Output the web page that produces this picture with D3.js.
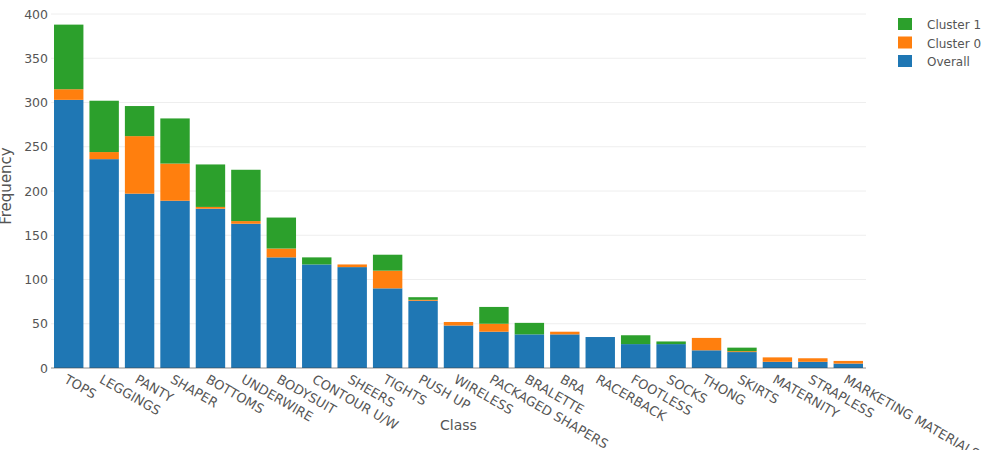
<!DOCTYPE html>
<html>
<head>
<meta charset="utf-8">
<script src="https://cdn.jsdelivr.net/npm/d3@7"></script>
<style>
  body { margin: 0; background: #fff; }
  svg text { font-family: "DejaVu Sans", sans-serif; fill: #555; }
</style>
</head>
<body>
<div id="chart-area"></div>
<script>
// data
var classes = ['TOPS', 'LEGGINGS', 'PANTY', 'SHAPER', 'BOTTOMS', 'UNDERWIRE', 'BODYSUIT',
  'CONTOUR U/W', 'SHEERS', 'TIGHTS', 'PUSH UP', 'WIRELESS', 'PACKAGED SHAPERS', 'BRALETTE',
  'BRA', 'RACERBACK', 'FOOTLESS', 'SOCKS', 'THONG', 'SKIRTS', 'MATERNITY', 'STRAPLESS',
  'MARKETING MATERIALS'];
var overall  = [303, 236, 197, 189, 180, 163, 125, 117, 114, 90, 76, 48, 41, 38, 38, 35, 27, 27, 20, 18, 7, 7, 5];
var cluster0 = [12, 8, 65, 42, 2, 3, 10, 0, 3, 20, 1, 4, 9, 0, 3, 0, 0, 0, 14, 1, 5, 4, 3];
var cluster1 = [73, 58, 34, 51, 48, 58, 35, 8, 0, 18, 3, 0, 19, 13, 0, 0, 10, 3, 0, 4, 0, 0, 0];
var seriesNames = ['Overall', 'Cluster 0', 'Cluster 1'];
var colors = ['#1f77b4', '#ff7f0e', '#2ca02c'];
var yTicks = [0, 50, 100, 150, 200, 250, 300, 350, 400];

var margin = {top: 14, left: 51, right: 133, bottom: 82};
var width = 999 - margin.left - margin.right;
var height = 450 - margin.top - margin.bottom;

var svg = d3.select('#chart-area')
  .append('svg')
    .attr('width', 999)
    .attr('height', 450)
  .append('g')
    .attr('transform', 'translate(' + margin.left + ',' + margin.top + ')');

var x = d3.scaleBand()
  .domain(classes)
  .range([0, width])
  .paddingInner(0.17)
  .paddingOuter(0.085);
var y = d3.scaleLinear()
  .domain([0, 400])
  .range([height, 0]);

// grid
svg.append('g')
  .selectAll('line')
  .data(yTicks.slice(1))
  .enter().append('line')
    .attr('x1', 0)
    .attr('x2', width)
    .attr('y1', d => y(d))
    .attr('y2', d => y(d))
    .attr('stroke', '#eee')
    .attr('stroke-width', 1);

// stacked bars
var rows = classes.map((c, i) => ({cls: c, 'Overall': overall[i], 'Cluster 0': cluster0[i], 'Cluster 1': cluster1[i]}));
var stack = d3.stack().keys(seriesNames)(rows);

svg.append('g')
  .selectAll('g')
  .data(stack)
  .enter().append('g')
    .attr('fill', (d, i) => colors[i])
  .selectAll('rect')
  .data(d => d)
  .enter().append('rect')
    .attr('x', d => x(d.data.cls))
    .attr('width', x.bandwidth())
    .attr('y', d => y(d[1]))
    .attr('height', d => y(d[0]) - y(d[1]));

// zero line
svg.append('line')
  .attr('x1', 0)
  .attr('x2', width)
  .attr('y1', y(0))
  .attr('y2', y(0))
  .attr('stroke', '#444')
  .attr('stroke-width', 1)
  .attr('stroke-opacity', 0.6);

// Y axis
var yAxisCall = d3.axisLeft(y).tickValues(yTicks).tickSize(0).tickPadding(3);
var yAxis = svg.append('g').call(yAxisCall);
yAxis.select('.domain').remove();
yAxis.selectAll('text').attr('font-size', '12.5px').attr('font-family', '"DejaVu Sans", sans-serif').attr('fill', '#555');

// X axis, labels rotated 30 deg
var xAxis = svg.append('g')
  .attr('transform', 'translate(0,' + height + ')');
xAxis.selectAll('text')
  .data(classes)
  .enter().append('text')
    .attr('transform', d => 'translate(' + (x(d) + x.bandwidth() / 2 - 1) + ',6) rotate(30)')
    .attr('text-anchor', 'start')
    .attr('dy', '0.7em')
    .attr('font-size', '13px')
    .text(d => d);

// axis titles
svg.append('text')
  .attr('x', width / 2)
  .attr('y', height + 62)
  .attr('text-anchor', 'middle')
  .attr('font-size', '14px')
  .text('Class');
svg.append('text')
  .attr('transform', 'rotate(-90)')
  .attr('x', -172)
  .attr('y', -40)
  .attr('text-anchor', 'middle')
  .attr('font-size', '15px')
  .text('Frequency');

// Legend (reversed, like a stacked legend)
var legend = d3.select('svg').append('g')
  .attr('transform', 'translate(898,18)');
seriesNames.slice().reverse().forEach(function(name, i){
  var row = legend.append('g').attr('transform', 'translate(0,' + (i * 18.5) + ')');
  row.append('rect')
    .attr('width', 14)
    .attr('height', 12)
    .attr('fill', colors[seriesNames.length - 1 - i]);
  row.append('text')
    .attr('x', 29)
    .attr('y', 11)
    .attr('font-size', '12px')
    .text(name);
});
</script>
</body>
</html>
